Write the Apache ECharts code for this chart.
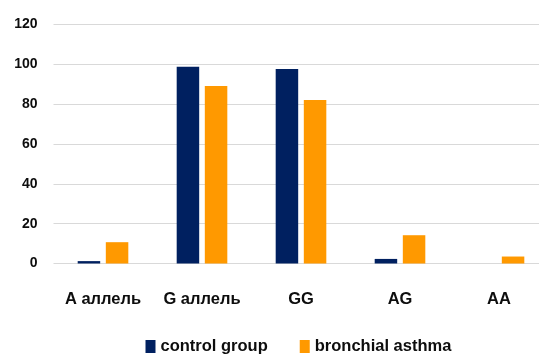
<!DOCTYPE html>
<html>
<head>
<meta charset="utf-8">
<script src="https://cdn.jsdelivr.net/npm/echarts@6/dist/echarts.min.js"></script>
<style>
  html, body { margin: 0; padding: 0; background: #fff; overflow: hidden; }
  /* the canvas is a little wider than the window so the last category is clipped at the right */
  #chart { width: 549px; height: 354px; }
</style>
</head>
<body>
<div id="chart"></div>
<script>
// Genotype / allele frequencies (%)
const categories = ['A аллель', 'G аллель', 'GG', 'AG', 'AA'];
const controlGroup = [1.2, 98.8, 97.6, 2.3, 0];
const bronchialAsthma = [10.7, 89.1, 82.1, 14.2, 3.5];
const seriesNames = ['control group', 'bronchial asthma'];
const yTicks = { min: 0, max: 120, interval: 20 };

const FONT = 'Liberation Sans, Arial, sans-serif';
const TEXT = '#0d0d0d';

const chart = echarts.init(document.getElementById('chart'), null, { renderer: 'canvas' });

chart.setOption({
  animation: false,
  backgroundColor: '#fff',
  grid: { left: 53.5, right: 0.5, top: 24.5, bottom: 90.5, containLabel: false },
  legend: {
    left: 145.5,
    top: 338,
    padding: 0,
    itemWidth: 10,
    itemHeight: 13,
    itemGap: 32,
    icon: 'rect',
    textStyle: { fontFamily: FONT, fontWeight: 'bold', fontSize: 16.5, color: TEXT },
    data: seriesNames
  },
  xAxis: {
    type: 'category',
    data: categories,
    axisLine: { show: false },
    axisTick: { show: false },
    axisLabel: { interval: 0, margin: 27, fontFamily: FONT, fontWeight: 'bold', fontSize: 16.5, color: TEXT }
  },
  yAxis: {
    type: 'value',
    min: yTicks.min,
    max: yTicks.max,
    interval: yTicks.interval,
    axisLine: { show: false },
    axisTick: { show: false },
    splitLine: { lineStyle: { color: '#d9d9d9', width: 1 } },
    axisLabel: { margin: 16, fontFamily: FONT, fontWeight: 'bold', fontSize: 14, color: TEXT }
  },
  series: [
    {
      name: seriesNames[0],
      type: 'bar',
      data: controlGroup,
      barWidth: 22.5,
      barGap: '25%',
      itemStyle: { color: '#002060' }
    },
    {
      name: seriesNames[1],
      type: 'bar',
      data: bronchialAsthma,
      barWidth: 22.5,
      barGap: '25%',
      itemStyle: { color: '#FF9900' }
    }
  ]
});
</script>
</body>
</html>
